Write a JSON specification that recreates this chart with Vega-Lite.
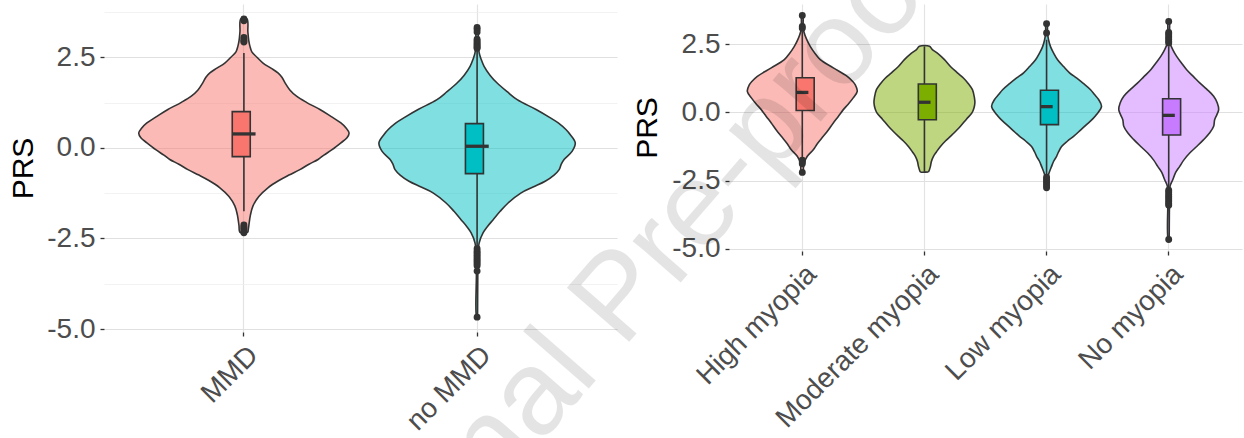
{
  "$schema": "https://vega.github.io/schema/vega-lite/v6.json",
  "background": "white",
  "autosize": {"type": "none"},
  "padding": {"left": 104, "top": 4, "right": 1140, "bottom": 434},
  "spacing": 112,
  "bounds": "flush",
  "resolve": {"scale": {"fill": "independent", "xOffset": "independent", "x": "independent", "y": "independent"}},
  "config": {
    "view": {"stroke": null},
    "font": "Liberation Sans",
    "axis": {
      "domain": false,
      "labelFont": "Liberation Sans",
      "labelFontSize": 28,
      "labelColor": "#4D4D4D",
      "labelLimit": 500,
      "titleFont": "Liberation Sans",
      "titleFontSize": 30,
      "titleFontWeight": "normal",
      "titleColor": "#000000",
      "tickColor": "#333333",
      "tickSize": 4,
      "tickWidth": 1.3,
      "gridColor": "#E3E3E3",
      "gridWidth": 1.2
    }
  },
  "datasets": {
    "v1": [
      {"g":"MMD","i":0,"PRS":-2.33,"w":0.017},{"g":"MMD","i":1,"PRS":-2.15,"w":0.021},{"g":"MMD","i":2,"PRS":-1.85,"w":0.028},{"g":"MMD","i":3,"PRS":-1.6,"w":0.039},{"g":"MMD","i":4,"PRS":-1.34,"w":0.064},{"g":"MMD","i":5,"PRS":-1.1,"w":0.103},{"g":"MMD","i":6,"PRS":-0.9,"w":0.15},{"g":"MMD","i":7,"PRS":-0.75,"w":0.193},{"g":"MMD","i":8,"PRS":-0.6,"w":0.24},{"g":"MMD","i":9,"PRS":-0.45,"w":0.279},{"g":"MMD","i":10,"PRS":-0.32,"w":0.318},{"g":"MMD","i":11,"PRS":-0.2,"w":0.343},{"g":"MMD","i":12,"PRS":-0.05,"w":0.378},{"g":"MMD","i":13,"PRS":0.14,"w":0.416},{"g":"MMD","i":14,"PRS":0.28,"w":0.442},{"g":"MMD","i":15,"PRS":0.41,"w":0.451},{"g":"MMD","i":16,"PRS":0.55,"w":0.438},{"g":"MMD","i":17,"PRS":0.69,"w":0.416},{"g":"MMD","i":18,"PRS":0.87,"w":0.373},{"g":"MMD","i":19,"PRS":1.06,"w":0.326},{"g":"MMD","i":20,"PRS":1.25,"w":0.27},{"g":"MMD","i":21,"PRS":1.42,"w":0.227},{"g":"MMD","i":22,"PRS":1.6,"w":0.197},{"g":"MMD","i":23,"PRS":1.8,"w":0.176},{"g":"MMD","i":24,"PRS":1.95,"w":0.163},{"g":"MMD","i":25,"PRS":2.07,"w":0.146},{"g":"MMD","i":26,"PRS":2.2,"w":0.116},{"g":"MMD","i":27,"PRS":2.34,"w":0.082},{"g":"MMD","i":28,"PRS":2.5,"w":0.056},{"g":"MMD","i":29,"PRS":2.65,"w":0.034},{"g":"MMD","i":30,"PRS":2.8,"w":0.026},{"g":"MMD","i":31,"PRS":2.95,"w":0.021},{"g":"MMD","i":32,"PRS":3.2,"w":0.017},{"g":"MMD","i":33,"PRS":3.56,"w":0.013},
      {"g":"MMD","i":34,"PRS":3.56,"w":-0.013},{"g":"MMD","i":35,"PRS":3.2,"w":-0.017},{"g":"MMD","i":36,"PRS":2.95,"w":-0.021},{"g":"MMD","i":37,"PRS":2.8,"w":-0.026},{"g":"MMD","i":38,"PRS":2.65,"w":-0.034},{"g":"MMD","i":39,"PRS":2.5,"w":-0.056},{"g":"MMD","i":40,"PRS":2.34,"w":-0.082},{"g":"MMD","i":41,"PRS":2.2,"w":-0.116},{"g":"MMD","i":42,"PRS":2.07,"w":-0.146},{"g":"MMD","i":43,"PRS":1.95,"w":-0.163},{"g":"MMD","i":44,"PRS":1.8,"w":-0.176},{"g":"MMD","i":45,"PRS":1.6,"w":-0.197},{"g":"MMD","i":46,"PRS":1.42,"w":-0.227},{"g":"MMD","i":47,"PRS":1.25,"w":-0.27},{"g":"MMD","i":48,"PRS":1.06,"w":-0.326},{"g":"MMD","i":49,"PRS":0.87,"w":-0.373},{"g":"MMD","i":50,"PRS":0.69,"w":-0.416},{"g":"MMD","i":51,"PRS":0.55,"w":-0.438},{"g":"MMD","i":52,"PRS":0.41,"w":-0.451},{"g":"MMD","i":53,"PRS":0.28,"w":-0.442},{"g":"MMD","i":54,"PRS":0.14,"w":-0.416},{"g":"MMD","i":55,"PRS":-0.05,"w":-0.378},{"g":"MMD","i":56,"PRS":-0.2,"w":-0.343},{"g":"MMD","i":57,"PRS":-0.32,"w":-0.318},{"g":"MMD","i":58,"PRS":-0.45,"w":-0.279},{"g":"MMD","i":59,"PRS":-0.6,"w":-0.24},{"g":"MMD","i":60,"PRS":-0.75,"w":-0.193},{"g":"MMD","i":61,"PRS":-0.9,"w":-0.15},{"g":"MMD","i":62,"PRS":-1.1,"w":-0.103},{"g":"MMD","i":63,"PRS":-1.34,"w":-0.064},{"g":"MMD","i":64,"PRS":-1.6,"w":-0.039},{"g":"MMD","i":65,"PRS":-1.85,"w":-0.028},{"g":"MMD","i":66,"PRS":-2.15,"w":-0.021},{"g":"MMD","i":67,"PRS":-2.33,"w":-0.017},{"g":"MMD","i":68,"PRS":-2.33,"w":0.017},
      {"g":"no MMD","i":0,"PRS":-4.67,"w":0.002},{"g":"no MMD","i":1,"PRS":-3.5,"w":0.003},{"g":"no MMD","i":2,"PRS":-3.0,"w":0.004},{"g":"no MMD","i":3,"PRS":-2.62,"w":0.009},{"g":"no MMD","i":4,"PRS":-2.34,"w":0.026},{"g":"no MMD","i":5,"PRS":-2.18,"w":0.043},{"g":"no MMD","i":6,"PRS":-1.98,"w":0.069},{"g":"no MMD","i":7,"PRS":-1.75,"w":0.099},{"g":"no MMD","i":8,"PRS":-1.52,"w":0.133},{"g":"no MMD","i":9,"PRS":-1.24,"w":0.189},{"g":"no MMD","i":10,"PRS":-1.08,"w":0.24},{"g":"no MMD","i":11,"PRS":-0.92,"w":0.292},{"g":"no MMD","i":12,"PRS":-0.75,"w":0.33},{"g":"no MMD","i":13,"PRS":-0.6,"w":0.352},{"g":"no MMD","i":14,"PRS":-0.45,"w":0.361},{"g":"no MMD","i":15,"PRS":-0.32,"w":0.373},{"g":"no MMD","i":16,"PRS":-0.09,"w":0.408},{"g":"no MMD","i":17,"PRS":0.14,"w":0.421},{"g":"no MMD","i":18,"PRS":0.37,"w":0.399},{"g":"no MMD","i":19,"PRS":0.5,"w":0.382},{"g":"no MMD","i":20,"PRS":0.69,"w":0.348},{"g":"no MMD","i":21,"PRS":0.85,"w":0.309},{"g":"no MMD","i":22,"PRS":1.06,"w":0.253},{"g":"no MMD","i":23,"PRS":1.33,"w":0.172},{"g":"no MMD","i":24,"PRS":1.55,"w":0.129},{"g":"no MMD","i":25,"PRS":1.79,"w":0.086},{"g":"no MMD","i":26,"PRS":2.0,"w":0.056},{"g":"no MMD","i":27,"PRS":2.25,"w":0.03},{"g":"no MMD","i":28,"PRS":2.45,"w":0.017},{"g":"no MMD","i":29,"PRS":2.62,"w":0.009},{"g":"no MMD","i":30,"PRS":2.9,"w":0.004},{"g":"no MMD","i":31,"PRS":3.32,"w":0.004},
      {"g":"no MMD","i":32,"PRS":3.32,"w":-0.004},{"g":"no MMD","i":33,"PRS":2.9,"w":-0.004},{"g":"no MMD","i":34,"PRS":2.62,"w":-0.009},{"g":"no MMD","i":35,"PRS":2.45,"w":-0.017},{"g":"no MMD","i":36,"PRS":2.25,"w":-0.03},{"g":"no MMD","i":37,"PRS":2.0,"w":-0.056},{"g":"no MMD","i":38,"PRS":1.79,"w":-0.086},{"g":"no MMD","i":39,"PRS":1.55,"w":-0.129},{"g":"no MMD","i":40,"PRS":1.33,"w":-0.172},{"g":"no MMD","i":41,"PRS":1.06,"w":-0.253},{"g":"no MMD","i":42,"PRS":0.85,"w":-0.309},{"g":"no MMD","i":43,"PRS":0.69,"w":-0.348},{"g":"no MMD","i":44,"PRS":0.5,"w":-0.382},{"g":"no MMD","i":45,"PRS":0.37,"w":-0.399},{"g":"no MMD","i":46,"PRS":0.14,"w":-0.421},{"g":"no MMD","i":47,"PRS":-0.09,"w":-0.408},{"g":"no MMD","i":48,"PRS":-0.32,"w":-0.373},{"g":"no MMD","i":49,"PRS":-0.45,"w":-0.361},{"g":"no MMD","i":50,"PRS":-0.6,"w":-0.352},{"g":"no MMD","i":51,"PRS":-0.75,"w":-0.33},{"g":"no MMD","i":52,"PRS":-0.92,"w":-0.292},{"g":"no MMD","i":53,"PRS":-1.08,"w":-0.24},{"g":"no MMD","i":54,"PRS":-1.24,"w":-0.189},{"g":"no MMD","i":55,"PRS":-1.52,"w":-0.133},{"g":"no MMD","i":56,"PRS":-1.75,"w":-0.099},{"g":"no MMD","i":57,"PRS":-1.98,"w":-0.069},{"g":"no MMD","i":58,"PRS":-2.18,"w":-0.043},{"g":"no MMD","i":59,"PRS":-2.34,"w":-0.026},{"g":"no MMD","i":60,"PRS":-2.62,"w":-0.009},{"g":"no MMD","i":61,"PRS":-3.0,"w":-0.004},{"g":"no MMD","i":62,"PRS":-3.5,"w":-0.003},{"g":"no MMD","i":63,"PRS":-4.67,"w":-0.002},{"g":"no MMD","i":64,"PRS":-4.67,"w":0.002}
    ],
    "b1": [
      {"g":"MMD","lo":-1.75,"q1":-0.24,"med":0.385,"q3":1.0,"hi":2.62},
      {"g":"no MMD","lo":-2.72,"q1":-0.71,"med":0.045,"q3":0.67,"hi":2.71}
    ],
    "o1": [
      {"g":"MMD","PRS":3.56},{"g":"MMD","PRS":3.51},{"g":"MMD","PRS":3.05},{"g":"MMD","PRS":3.0},{"g":"MMD","PRS":2.95},{"g":"MMD","PRS":2.92},{"g":"MMD","PRS":-2.13},{"g":"MMD","PRS":-2.18},{"g":"MMD","PRS":-2.22},{"g":"MMD","PRS":-2.27},{"g":"MMD","PRS":-2.31},{"g":"MMD","PRS":-2.34},
      {"g":"no MMD","PRS":3.32},{"g":"no MMD","PRS":3.27},{"g":"no MMD","PRS":3.2},{"g":"no MMD","PRS":3.0},{"g":"no MMD","PRS":2.95},{"g":"no MMD","PRS":2.9},{"g":"no MMD","PRS":2.86},{"g":"no MMD","PRS":2.82},{"g":"no MMD","PRS":2.78},{"g":"no MMD","PRS":2.75},{"g":"no MMD","PRS":-2.78},{"g":"no MMD","PRS":-2.85},{"g":"no MMD","PRS":-2.9},{"g":"no MMD","PRS":-2.95},{"g":"no MMD","PRS":-3.0},{"g":"no MMD","PRS":-3.05},{"g":"no MMD","PRS":-3.1},{"g":"no MMD","PRS":-3.15},{"g":"no MMD","PRS":-3.2},{"g":"no MMD","PRS":-3.25},{"g":"no MMD","PRS":-3.4},{"g":"no MMD","PRS":-4.67}
    ],
    "v2": [
      {"g":"High myopia","i":0,"PRS":-2.2,"w":0.007},{"g":"High myopia","i":1,"PRS":-1.85,"w":0.016},{"g":"High myopia","i":2,"PRS":-1.61,"w":0.041},{"g":"High myopia","i":3,"PRS":-1.37,"w":0.09},{"g":"High myopia","i":4,"PRS":-1.15,"w":0.123},{"g":"High myopia","i":5,"PRS":-0.88,"w":0.172},{"g":"High myopia","i":6,"PRS":-0.65,"w":0.213},{"g":"High myopia","i":7,"PRS":-0.39,"w":0.254},{"g":"High myopia","i":8,"PRS":-0.15,"w":0.295},{"g":"High myopia","i":9,"PRS":0.1,"w":0.336},{"g":"High myopia","i":10,"PRS":0.3,"w":0.376},{"g":"High myopia","i":11,"PRS":0.53,"w":0.417},{"g":"High myopia","i":12,"PRS":0.77,"w":0.45},{"g":"High myopia","i":13,"PRS":1.01,"w":0.434},{"g":"High myopia","i":14,"PRS":1.15,"w":0.409},{"g":"High myopia","i":15,"PRS":1.32,"w":0.368},{"g":"High myopia","i":16,"PRS":1.63,"w":0.254},{"g":"High myopia","i":17,"PRS":1.93,"w":0.147},{"g":"High myopia","i":18,"PRS":2.15,"w":0.106},{"g":"High myopia","i":19,"PRS":2.42,"w":0.065},{"g":"High myopia","i":20,"PRS":2.7,"w":0.033},{"g":"High myopia","i":21,"PRS":2.97,"w":0.012},{"g":"High myopia","i":22,"PRS":3.1,"w":0.007},{"g":"High myopia","i":23,"PRS":3.55,"w":0.004},
      {"g":"High myopia","i":24,"PRS":3.55,"w":-0.004},{"g":"High myopia","i":25,"PRS":3.1,"w":-0.007},{"g":"High myopia","i":26,"PRS":2.97,"w":-0.012},{"g":"High myopia","i":27,"PRS":2.7,"w":-0.033},{"g":"High myopia","i":28,"PRS":2.42,"w":-0.065},{"g":"High myopia","i":29,"PRS":2.15,"w":-0.106},{"g":"High myopia","i":30,"PRS":1.93,"w":-0.147},{"g":"High myopia","i":31,"PRS":1.63,"w":-0.254},{"g":"High myopia","i":32,"PRS":1.32,"w":-0.368},{"g":"High myopia","i":33,"PRS":1.15,"w":-0.409},{"g":"High myopia","i":34,"PRS":1.01,"w":-0.434},{"g":"High myopia","i":35,"PRS":0.77,"w":-0.45},{"g":"High myopia","i":36,"PRS":0.53,"w":-0.417},{"g":"High myopia","i":37,"PRS":0.3,"w":-0.376},{"g":"High myopia","i":38,"PRS":0.1,"w":-0.336},{"g":"High myopia","i":39,"PRS":-0.15,"w":-0.295},{"g":"High myopia","i":40,"PRS":-0.39,"w":-0.254},{"g":"High myopia","i":41,"PRS":-0.65,"w":-0.213},{"g":"High myopia","i":42,"PRS":-0.88,"w":-0.172},{"g":"High myopia","i":43,"PRS":-1.15,"w":-0.123},{"g":"High myopia","i":44,"PRS":-1.37,"w":-0.09},{"g":"High myopia","i":45,"PRS":-1.61,"w":-0.041},{"g":"High myopia","i":46,"PRS":-1.85,"w":-0.016},{"g":"High myopia","i":47,"PRS":-2.2,"w":-0.007},{"g":"High myopia","i":48,"PRS":-2.2,"w":0.007},
      {"g":"Moderate myopia","i":0,"PRS":-2.18,"w":0.033},{"g":"Moderate myopia","i":1,"PRS":-2.1,"w":0.041},{"g":"Moderate myopia","i":2,"PRS":-1.98,"w":0.049},{"g":"Moderate myopia","i":3,"PRS":-1.8,"w":0.057},{"g":"Moderate myopia","i":4,"PRS":-1.61,"w":0.074},{"g":"Moderate myopia","i":5,"PRS":-1.45,"w":0.098},{"g":"Moderate myopia","i":6,"PRS":-1.25,"w":0.131},{"g":"Moderate myopia","i":7,"PRS":-1.05,"w":0.172},{"g":"Moderate myopia","i":8,"PRS":-0.88,"w":0.213},{"g":"Moderate myopia","i":9,"PRS":-0.7,"w":0.254},{"g":"Moderate myopia","i":10,"PRS":-0.51,"w":0.295},{"g":"Moderate myopia","i":11,"PRS":-0.25,"w":0.344},{"g":"Moderate myopia","i":12,"PRS":-0.02,"w":0.389},{"g":"Moderate myopia","i":13,"PRS":0.15,"w":0.405},{"g":"Moderate myopia","i":14,"PRS":0.34,"w":0.413},{"g":"Moderate myopia","i":15,"PRS":0.55,"w":0.409},{"g":"Moderate myopia","i":16,"PRS":0.83,"w":0.393},{"g":"Moderate myopia","i":17,"PRS":1.05,"w":0.36},{"g":"Moderate myopia","i":18,"PRS":1.26,"w":0.319},{"g":"Moderate myopia","i":19,"PRS":1.45,"w":0.27},{"g":"Moderate myopia","i":20,"PRS":1.68,"w":0.213},{"g":"Moderate myopia","i":21,"PRS":1.93,"w":0.164},{"g":"Moderate myopia","i":22,"PRS":2.17,"w":0.106},{"g":"Moderate myopia","i":23,"PRS":2.3,"w":0.065},{"g":"Moderate myopia","i":24,"PRS":2.42,"w":0.041},
      {"g":"Moderate myopia","i":25,"PRS":2.42,"w":-0.041},{"g":"Moderate myopia","i":26,"PRS":2.3,"w":-0.065},{"g":"Moderate myopia","i":27,"PRS":2.17,"w":-0.106},{"g":"Moderate myopia","i":28,"PRS":1.93,"w":-0.164},{"g":"Moderate myopia","i":29,"PRS":1.68,"w":-0.213},{"g":"Moderate myopia","i":30,"PRS":1.45,"w":-0.27},{"g":"Moderate myopia","i":31,"PRS":1.26,"w":-0.319},{"g":"Moderate myopia","i":32,"PRS":1.05,"w":-0.36},{"g":"Moderate myopia","i":33,"PRS":0.83,"w":-0.393},{"g":"Moderate myopia","i":34,"PRS":0.55,"w":-0.409},{"g":"Moderate myopia","i":35,"PRS":0.34,"w":-0.413},{"g":"Moderate myopia","i":36,"PRS":0.15,"w":-0.405},{"g":"Moderate myopia","i":37,"PRS":-0.02,"w":-0.389},{"g":"Moderate myopia","i":38,"PRS":-0.25,"w":-0.344},{"g":"Moderate myopia","i":39,"PRS":-0.51,"w":-0.295},{"g":"Moderate myopia","i":40,"PRS":-0.7,"w":-0.254},{"g":"Moderate myopia","i":41,"PRS":-0.88,"w":-0.213},{"g":"Moderate myopia","i":42,"PRS":-1.05,"w":-0.172},{"g":"Moderate myopia","i":43,"PRS":-1.25,"w":-0.131},{"g":"Moderate myopia","i":44,"PRS":-1.45,"w":-0.098},{"g":"Moderate myopia","i":45,"PRS":-1.61,"w":-0.074},{"g":"Moderate myopia","i":46,"PRS":-1.8,"w":-0.057},{"g":"Moderate myopia","i":47,"PRS":-1.98,"w":-0.049},{"g":"Moderate myopia","i":48,"PRS":-2.1,"w":-0.041},{"g":"Moderate myopia","i":49,"PRS":-2.18,"w":-0.033},{"g":"Moderate myopia","i":50,"PRS":-2.18,"w":0.033},
      {"g":"Low myopia","i":0,"PRS":-2.76,"w":0.004},{"g":"Low myopia","i":1,"PRS":-2.5,"w":0.008},{"g":"Low myopia","i":2,"PRS":-2.28,"w":0.016},{"g":"Low myopia","i":3,"PRS":-1.98,"w":0.041},{"g":"Low myopia","i":4,"PRS":-1.8,"w":0.057},{"g":"Low myopia","i":5,"PRS":-1.61,"w":0.082},{"g":"Low myopia","i":6,"PRS":-1.45,"w":0.098},{"g":"Low myopia","i":7,"PRS":-1.25,"w":0.123},{"g":"Low myopia","i":8,"PRS":-1.05,"w":0.172},{"g":"Low myopia","i":9,"PRS":-0.88,"w":0.221},{"g":"Low myopia","i":10,"PRS":-0.65,"w":0.278},{"g":"Low myopia","i":11,"PRS":-0.45,"w":0.327},{"g":"Low myopia","i":12,"PRS":-0.25,"w":0.376},{"g":"Low myopia","i":13,"PRS":-0.08,"w":0.409},{"g":"Low myopia","i":14,"PRS":0.22,"w":0.45},{"g":"Low myopia","i":15,"PRS":0.47,"w":0.426},{"g":"Low myopia","i":16,"PRS":0.65,"w":0.393},{"g":"Low myopia","i":17,"PRS":0.83,"w":0.36},{"g":"Low myopia","i":18,"PRS":1.05,"w":0.303},{"g":"Low myopia","i":19,"PRS":1.26,"w":0.245},{"g":"Low myopia","i":20,"PRS":1.45,"w":0.188},{"g":"Low myopia","i":21,"PRS":1.68,"w":0.139},{"g":"Low myopia","i":22,"PRS":1.93,"w":0.09},{"g":"Low myopia","i":23,"PRS":2.18,"w":0.057},{"g":"Low myopia","i":24,"PRS":2.4,"w":0.033},{"g":"Low myopia","i":25,"PRS":2.66,"w":0.016},{"g":"Low myopia","i":26,"PRS":2.91,"w":0.008},{"g":"Low myopia","i":27,"PRS":3.25,"w":0.004},
      {"g":"Low myopia","i":28,"PRS":3.25,"w":-0.004},{"g":"Low myopia","i":29,"PRS":2.91,"w":-0.008},{"g":"Low myopia","i":30,"PRS":2.66,"w":-0.016},{"g":"Low myopia","i":31,"PRS":2.4,"w":-0.033},{"g":"Low myopia","i":32,"PRS":2.18,"w":-0.057},{"g":"Low myopia","i":33,"PRS":1.93,"w":-0.09},{"g":"Low myopia","i":34,"PRS":1.68,"w":-0.139},{"g":"Low myopia","i":35,"PRS":1.45,"w":-0.188},{"g":"Low myopia","i":36,"PRS":1.26,"w":-0.245},{"g":"Low myopia","i":37,"PRS":1.05,"w":-0.303},{"g":"Low myopia","i":38,"PRS":0.83,"w":-0.36},{"g":"Low myopia","i":39,"PRS":0.65,"w":-0.393},{"g":"Low myopia","i":40,"PRS":0.47,"w":-0.426},{"g":"Low myopia","i":41,"PRS":0.22,"w":-0.45},{"g":"Low myopia","i":42,"PRS":-0.08,"w":-0.409},{"g":"Low myopia","i":43,"PRS":-0.25,"w":-0.376},{"g":"Low myopia","i":44,"PRS":-0.45,"w":-0.327},{"g":"Low myopia","i":45,"PRS":-0.65,"w":-0.278},{"g":"Low myopia","i":46,"PRS":-0.88,"w":-0.221},{"g":"Low myopia","i":47,"PRS":-1.05,"w":-0.172},{"g":"Low myopia","i":48,"PRS":-1.25,"w":-0.123},{"g":"Low myopia","i":49,"PRS":-1.45,"w":-0.098},{"g":"Low myopia","i":50,"PRS":-1.61,"w":-0.082},{"g":"Low myopia","i":51,"PRS":-1.8,"w":-0.057},{"g":"Low myopia","i":52,"PRS":-1.98,"w":-0.041},{"g":"Low myopia","i":53,"PRS":-2.28,"w":-0.016},{"g":"Low myopia","i":54,"PRS":-2.5,"w":-0.008},{"g":"Low myopia","i":55,"PRS":-2.76,"w":-0.004},{"g":"Low myopia","i":56,"PRS":-2.76,"w":0.004},
      {"g":"No myopia","i":0,"PRS":-4.66,"w":0.004},{"g":"No myopia","i":1,"PRS":-3.2,"w":0.007},{"g":"No myopia","i":2,"PRS":-2.71,"w":0.011},{"g":"No myopia","i":3,"PRS":-2.47,"w":0.033},{"g":"No myopia","i":4,"PRS":-2.2,"w":0.057},{"g":"No myopia","i":5,"PRS":-1.98,"w":0.09},{"g":"No myopia","i":6,"PRS":-1.75,"w":0.123},{"g":"No myopia","i":7,"PRS":-1.49,"w":0.172},{"g":"No myopia","i":8,"PRS":-1.25,"w":0.229},{"g":"No myopia","i":9,"PRS":-1.0,"w":0.286},{"g":"No myopia","i":10,"PRS":-0.75,"w":0.336},{"g":"No myopia","i":11,"PRS":-0.51,"w":0.368},{"g":"No myopia","i":12,"PRS":-0.27,"w":0.376},{"g":"No myopia","i":13,"PRS":-0.1,"w":0.393},{"g":"No myopia","i":14,"PRS":0.1,"w":0.409},{"g":"No myopia","i":15,"PRS":0.35,"w":0.397},{"g":"No myopia","i":16,"PRS":0.59,"w":0.368},{"g":"No myopia","i":17,"PRS":0.85,"w":0.311},{"g":"No myopia","i":18,"PRS":1.08,"w":0.254},{"g":"No myopia","i":19,"PRS":1.3,"w":0.205},{"g":"No myopia","i":20,"PRS":1.56,"w":0.147},{"g":"No myopia","i":21,"PRS":1.8,"w":0.106},{"g":"No myopia","i":22,"PRS":2.05,"w":0.065},{"g":"No myopia","i":23,"PRS":2.3,"w":0.033},{"g":"No myopia","i":24,"PRS":2.54,"w":0.011},{"g":"No myopia","i":25,"PRS":2.9,"w":0.007},{"g":"No myopia","i":26,"PRS":3.33,"w":0.004},
      {"g":"No myopia","i":27,"PRS":3.33,"w":-0.004},{"g":"No myopia","i":28,"PRS":2.9,"w":-0.007},{"g":"No myopia","i":29,"PRS":2.54,"w":-0.011},{"g":"No myopia","i":30,"PRS":2.3,"w":-0.033},{"g":"No myopia","i":31,"PRS":2.05,"w":-0.065},{"g":"No myopia","i":32,"PRS":1.8,"w":-0.106},{"g":"No myopia","i":33,"PRS":1.56,"w":-0.147},{"g":"No myopia","i":34,"PRS":1.3,"w":-0.205},{"g":"No myopia","i":35,"PRS":1.08,"w":-0.254},{"g":"No myopia","i":36,"PRS":0.85,"w":-0.311},{"g":"No myopia","i":37,"PRS":0.59,"w":-0.368},{"g":"No myopia","i":38,"PRS":0.35,"w":-0.397},{"g":"No myopia","i":39,"PRS":0.1,"w":-0.409},{"g":"No myopia","i":40,"PRS":-0.1,"w":-0.393},{"g":"No myopia","i":41,"PRS":-0.27,"w":-0.376},{"g":"No myopia","i":42,"PRS":-0.51,"w":-0.368},{"g":"No myopia","i":43,"PRS":-0.75,"w":-0.336},{"g":"No myopia","i":44,"PRS":-1.0,"w":-0.286},{"g":"No myopia","i":45,"PRS":-1.25,"w":-0.229},{"g":"No myopia","i":46,"PRS":-1.49,"w":-0.172},{"g":"No myopia","i":47,"PRS":-1.75,"w":-0.123},{"g":"No myopia","i":48,"PRS":-1.98,"w":-0.09},{"g":"No myopia","i":49,"PRS":-2.2,"w":-0.057},{"g":"No myopia","i":50,"PRS":-2.47,"w":-0.033},{"g":"No myopia","i":51,"PRS":-2.71,"w":-0.011},{"g":"No myopia","i":52,"PRS":-3.2,"w":-0.007},{"g":"No myopia","i":53,"PRS":-4.66,"w":-0.004},{"g":"No myopia","i":54,"PRS":-4.66,"w":0.004}
    ],
    "b2": [
      {"g":"High myopia","lo":-1.65,"q1":0.07,"med":0.73,"q3":1.27,"hi":2.97},
      {"g":"Moderate myopia","lo":-2.18,"q1":-0.27,"med":0.37,"q3":1.04,"hi":2.42},
      {"g":"Low myopia","lo":-2.3,"q1":-0.45,"med":0.21,"q3":0.81,"hi":2.66},
      {"g":"No myopia","lo":-2.8,"q1":-0.83,"med":-0.11,"q3":0.5,"hi":2.42}
    ],
    "o2": [
      {"g":"High myopia","PRS":3.55},{"g":"High myopia","PRS":3.15},{"g":"High myopia","PRS":3.08},{"g":"High myopia","PRS":-1.75},{"g":"High myopia","PRS":-1.82},{"g":"High myopia","PRS":-1.88},{"g":"High myopia","PRS":-2.2},
      {"g":"Low myopia","PRS":3.25},{"g":"Low myopia","PRS":2.91},{"g":"Low myopia","PRS":-2.38},{"g":"Low myopia","PRS":-2.45},{"g":"Low myopia","PRS":-2.52},{"g":"Low myopia","PRS":-2.6},{"g":"Low myopia","PRS":-2.68},{"g":"Low myopia","PRS":-2.76},
      {"g":"No myopia","PRS":3.33},{"g":"No myopia","PRS":2.93},{"g":"No myopia","PRS":2.87},{"g":"No myopia","PRS":2.8},{"g":"No myopia","PRS":2.73},{"g":"No myopia","PRS":2.67},{"g":"No myopia","PRS":2.6},{"g":"No myopia","PRS":2.54},{"g":"No myopia","PRS":-2.85},{"g":"No myopia","PRS":-2.92},{"g":"No myopia","PRS":-3.0},{"g":"No myopia","PRS":-3.07},{"g":"No myopia","PRS":-3.14},{"g":"No myopia","PRS":-3.21},{"g":"No myopia","PRS":-3.28},{"g":"No myopia","PRS":-3.35},{"g":"No myopia","PRS":-3.4},{"g":"No myopia","PRS":-4.66}
    ],
    "wm": [
      {"g":"High myopia","PRS":-1.11,"t":"Journal Pre-proof"}
    ]
  },
  "hconcat": [
    {
      "width": 513,
      "height": 328,
      "encoding": {
        "x": {"field":"g","type":"nominal","sort":["MMD","no MMD"],
              "scale":{"type":"band","paddingInner":0,"paddingOuter":0.1},
              "axis":{"title":null,"grid":true,"labelAngle":-45,"labelAlign":"right","labelBaseline":"top","labelPadding":5}}
      },
      "layer": [
        {
          "data":{"name":"v1"},
          "mark":{"type":"line","interpolate":"catmull-rom","stroke":"#333333","strokeWidth":1.6,"fillOpacity":0.5},
          "encoding":{
            "xOffset":{"field":"w","type":"quantitative","scale":{"domain":[-0.5,0.5]}},
            "y":{"field":"PRS","type":"quantitative","title":"PRS","scale":{"domain":[-5.08,3.97],"nice":false,"zero":false},
                 "axis":{"values":[-5,-3.75,-2.5,-1.25,0,1.25,2.5,3.75],
                         "labelExpr":"abs(datum.value % 2.5) < 0.01 ? (datum.value < 0 ? '-' : '') + format(abs(datum.value), '.1f') : ''",
                         "gridWidth":{"condition":{"test":"abs(datum.value % 2.5) < 0.01","value":1.2},"value":0.7},
                         "gridColor":{"condition":{"test":"abs(datum.value % 2.5) < 0.01","value":"#E0E0E0"},"value":"#EDEDED"},
                         "tickOpacity":{"condition":{"test":"abs(datum.value % 2.5) < 0.01","value":1},"value":0},
                         "labelPadding":5,"titlePadding":8}},
            "fill":{"field":"g","type":"nominal","scale":{"domain":["MMD","no MMD"],"range":["#F8766D","#00BFC4"]},"legend":null},
            "detail":{"field":"g"},
            "order":{"field":"i","type":"quantitative"}
          }
        },
        {
          "data":{"name":"b1"},
          "mark":{"type":"rule","color":"#333333","strokeWidth":1.6},
          "encoding":{
            "y":{"field":"lo","type":"quantitative","title":"PRS","scale":{"domain":[-5.08,3.97],"nice":false,"zero":false}},
            "y2":{"field":"hi"}
          }
        },
        {
          "data":{"name":"b1"},
          "mark":{"type":"bar","width":{"band":0.1},"stroke":"#333333","strokeWidth":1.6},
          "encoding":{
            "y":{"field":"q1","type":"quantitative","title":"PRS","scale":{"domain":[-5.08,3.97],"nice":false,"zero":false}},
            "y2":{"field":"q3"},
            "fill":{"field":"g","type":"nominal","scale":{"domain":["MMD","no MMD"],"range":["#F8766D","#00BFC4"]},"legend":null}
          }
        },
        {
          "data":{"name":"b1"},
          "mark":{"type":"tick","size":23.3,"thickness":3.3,"color":"#333333","opacity":1},
          "encoding":{
            "y":{"field":"med","type":"quantitative","title":"PRS","scale":{"domain":[-5.08,3.97],"nice":false,"zero":false}}
          }
        },
        {
          "data":{"name":"o1"},
          "mark":{"type":"circle","size":48,"color":"#333333","opacity":1},
          "encoding":{
            "y":{"field":"PRS","type":"quantitative","title":"PRS","scale":{"domain":[-5.08,3.97],"nice":false,"zero":false}}
          }
        }
      ]
    },
    {
      "width": 513,
      "height": 247,
      "encoding": {
        "x": {"field":"g","type":"nominal","sort":["High myopia","Moderate myopia","Low myopia","No myopia"],
              "scale":{"type":"band","paddingInner":0,"paddingOuter":0.1},
              "axis":{"title":null,"grid":true,"labelAngle":-45,"labelAlign":"right","labelBaseline":"top","labelPadding":5}}
      },
      "layer": [
        {
          "data":{"name":"v2"},
          "mark":{"type":"line","interpolate":"catmull-rom","stroke":"#333333","strokeWidth":1.6,"fillOpacity":0.5},
          "encoding":{
            "xOffset":{"field":"w","type":"quantitative","scale":{"domain":[-0.5,0.5]}},
            "y":{"field":"PRS","type":"quantitative","title":"PRS","scale":{"domain":[-5.08,3.97],"nice":false,"zero":false},
                 "axis":{"values":[-5,-3.75,-2.5,-1.25,0,1.25,2.5,3.75],
                         "labelExpr":"abs(datum.value % 2.5) < 0.01 ? (datum.value < 0 ? '-' : '') + format(abs(datum.value), '.1f') : ''",
                         "gridWidth":{"condition":{"test":"abs(datum.value % 2.5) < 0.01","value":1.2},"value":0.7},
                         "gridColor":{"condition":{"test":"abs(datum.value % 2.5) < 0.01","value":"#E0E0E0"},"value":"#EDEDED"},
                         "tickOpacity":{"condition":{"test":"abs(datum.value % 2.5) < 0.01","value":1},"value":0},
                         "labelPadding":5,"titlePadding":9}},
            "fill":{"field":"g","type":"nominal","scale":{"domain":["High myopia","Moderate myopia","Low myopia","No myopia"],"range":["#F8766D","#7CAE00","#00BFC4","#C77CFF"]},"legend":null},
            "detail":{"field":"g"},
            "order":{"field":"i","type":"quantitative"}
          }
        },
        {
          "data":{"name":"b2"},
          "mark":{"type":"rule","color":"#333333","strokeWidth":1.6},
          "encoding":{
            "y":{"field":"lo","type":"quantitative","title":"PRS","scale":{"domain":[-5.08,3.97],"nice":false,"zero":false}},
            "y2":{"field":"hi"}
          }
        },
        {
          "data":{"name":"b2"},
          "mark":{"type":"bar","width":{"band":0.1},"stroke":"#333333","strokeWidth":1.6},
          "encoding":{
            "y":{"field":"q1","type":"quantitative","title":"PRS","scale":{"domain":[-5.08,3.97],"nice":false,"zero":false}},
            "y2":{"field":"q3"},
            "fill":{"field":"g","type":"nominal","scale":{"domain":["High myopia","Moderate myopia","Low myopia","No myopia"],"range":["#F8766D","#7CAE00","#00BFC4","#C77CFF"]},"legend":null}
          }
        },
        {
          "data":{"name":"b2"},
          "mark":{"type":"tick","size":12.2,"thickness":3.3,"color":"#333333","opacity":1},
          "encoding":{
            "y":{"field":"med","type":"quantitative","title":"PRS","scale":{"domain":[-5.08,3.97],"nice":false,"zero":false}}
          }
        },
        {
          "data":{"name":"o2"},
          "mark":{"type":"circle","size":48,"color":"#333333","opacity":1},
          "encoding":{
            "y":{"field":"PRS","type":"quantitative","title":"PRS","scale":{"domain":[-5.08,3.97],"nice":false,"zero":false}}
          }
        },
        {
          "data":{"name":"wm"},
          "mark":{"type":"text","angle":-49,"fontSize":120,"font":"Liberation Sans","color":"#000000","opacity":0.1,"align":"center","baseline":"alphabetic","dx":-237},
          "encoding":{
            "y":{"field":"PRS","type":"quantitative","title":"PRS","scale":{"domain":[-5.08,3.97],"nice":false,"zero":false}},
            "text":{"field":"t"}
          }
        }
      ]
    }
  ]
}
